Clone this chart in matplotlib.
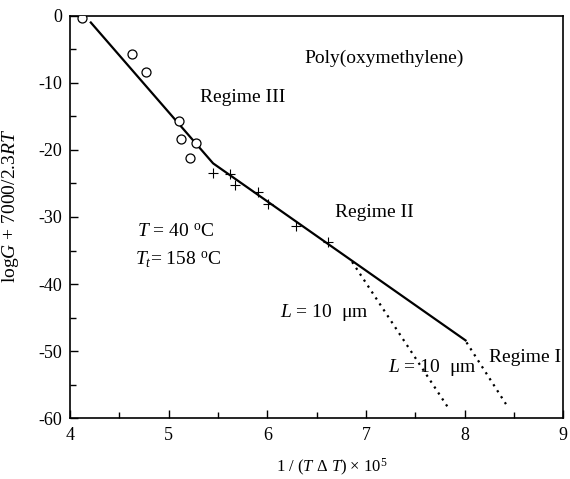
import matplotlib
matplotlib.use("Agg")
import matplotlib.pyplot as plt
from matplotlib.ticker import MultipleLocator

plt.rcParams['font.family'] = ['Liberation Serif', 'DejaVu Serif']
plt.rcParams['mathtext.fontset'] = 'custom'
plt.rcParams['mathtext.rm'] = 'Liberation Serif'
plt.rcParams['mathtext.it'] = 'Liberation Serif:italic'
plt.rcParams['axes.unicode_minus'] = False

# Regime III data (open circles)
circ_x = [4.12, 4.63, 4.77, 5.10, 5.12, 5.28, 5.22]
circ_y = [-0.4, -5.7, -8.4, -15.7, -18.4, -18.9, -21.2]

# Regime II data (crosses)
plus_x = [5.45, 5.62, 5.67, 5.91, 6.01, 6.29, 6.62]
plus_y = [-23.4, -23.6, -25.3, -26.3, -28.1, -31.4, -33.7]

# fitted lines
fit_x = [4.21, 5.45, 8.01]
fit_y = [-1.0, -22.0, -48.4]

# L = 10 um curves
dot1_x = [6.86, 7.85]
dot1_y = [-36.7, -58.8]
dot2_x = [8.02, 8.42]
dot2_y = [-48.7, -57.9]

fig = plt.figure(figsize=(5.7, 4.79), dpi=100)
ax = fig.add_axes([0.123, 0.127, 0.865, 0.840])

ax.plot(fit_x, fit_y, color='black', lw=1.6)
ax.plot(dot1_x, dot1_y, color='black', lw=1.6, linestyle=(0, (1, 2.2)))
ax.plot(dot2_x, dot2_y, color='black', lw=1.6, linestyle=(0, (1, 2.2)))
ax.scatter(circ_x, circ_y, s=42, facecolors='white', edgecolors='black', linewidths=0.9, zorder=3)
ax.scatter(plus_x, plus_y, s=48, marker='+', color='black', linewidths=0.8, zorder=3)

fs = 14
ax.text(6.38, -6.3, 'Poly(oxymethylene)', fontsize=fs, va='center')
ax.text(5.32, -12.2, 'Regime III', fontsize=fs, va='center')
ax.text(6.69, -29.4, 'Regime II', fontsize=fs, va='center')
ax.text(8.25, -50.9, 'Regime I', fontsize=fs, va='center')
ax.text(4.68, -32.2, r'$T$ = 40 $^{\rm o}$C', fontsize=fs, va='center')
ax.text(4.66, -36.4, r'$T_t$= 158 $^{\rm o}$C', fontsize=fs, va='center')
ax.text(6.13, -44.3, r'$L$ = 10  μm', fontsize=fs, va='center')
ax.text(7.22, -52.5, r'$L$ = 10  μm', fontsize=fs, va='center')

ax.set_xlim(4, 9)
ax.set_ylim(-60, 0)
ax.xaxis.set_major_locator(MultipleLocator(1))
ax.xaxis.set_minor_locator(MultipleLocator(0.5))
ax.yaxis.set_major_locator(MultipleLocator(10))
ax.yaxis.set_minor_locator(MultipleLocator(5))
ax.tick_params(which='both', direction='in', top=False, right=False, labelsize=13, width=1)
ax.tick_params(which='major', length=6, pad=6)
ax.tick_params(which='minor', length=4)
for sp in ax.spines.values():
    sp.set_linewidth(1.2)

ax.set_xlabel(r'1 / ($T$ $\Delta$ $T$) × 10$^5$', fontsize=12)
ax.xaxis.set_label_coords(0.53, -0.095)
ax.set_ylabel(r'log$G$ + 7000/2.3$RT$', fontsize=14)
ax.yaxis.set_label_coords(-0.100, 0.527)

fig.savefig('out.png', dpi=100)
